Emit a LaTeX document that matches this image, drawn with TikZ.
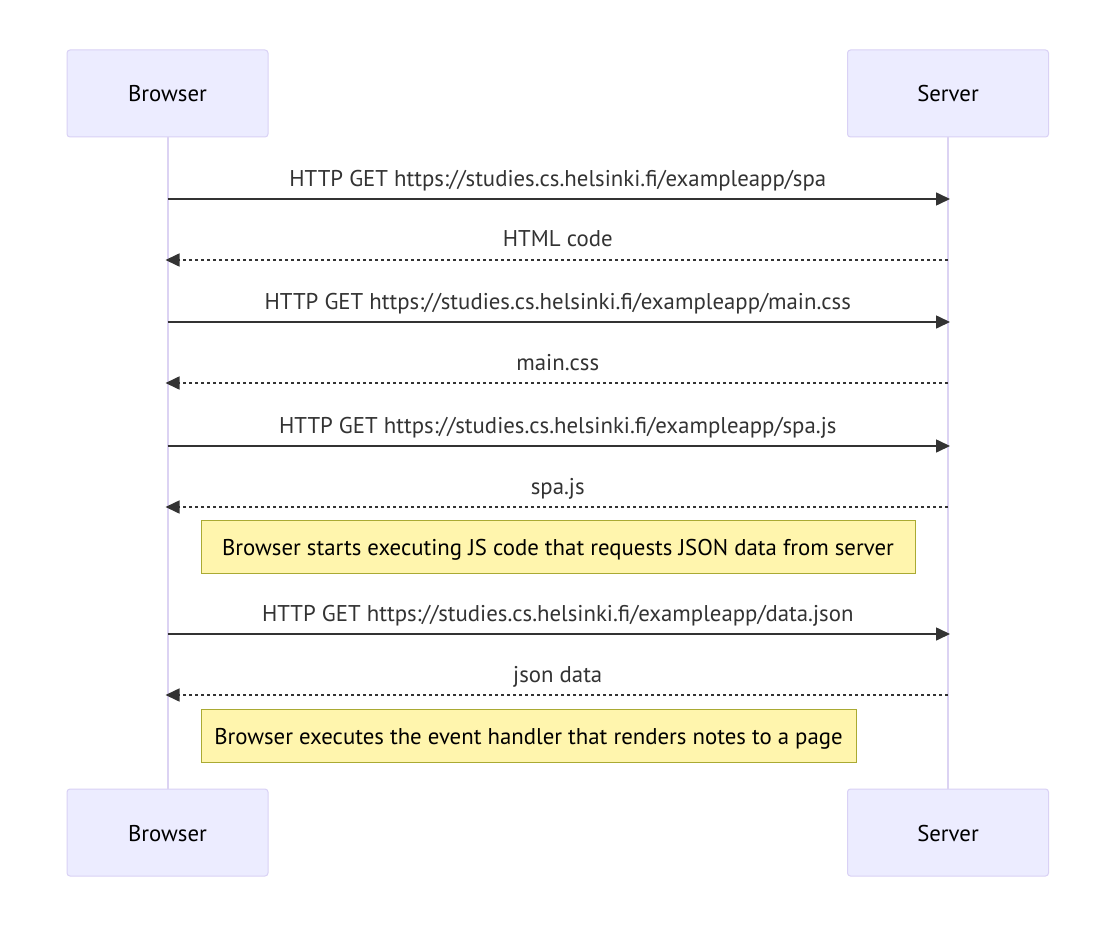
\documentclass[tikz,border=0pt]{standalone}
\usepackage{fontspec}
\setmainfont{PT Sans}
\usetikzlibrary{arrows.meta}
\definecolor{actfill}{HTML}{ECECFF}
\definecolor{actdraw}{HTML}{D9D1F5}
\definecolor{lifeln}{HTML}{DCD3F3}
\definecolor{msgcol}{HTML}{333333}
\definecolor{notefill}{HTML}{FFF5AD}
\definecolor{notedraw}{HTML}{AAAA33}
\newcommand{\myfont}{\fontsize{22.8}{26}\selectfont}
\tikzset{
  actor/.style={draw=actdraw, fill=actfill, line width=1pt, rounded corners=3pt,
    minimum width=201pt, minimum height=87pt, inner sep=0pt},
  atext/.style={font=\myfont, text=black, inner sep=0pt, anchor=base},
  life/.style={draw=lifeln, line width=2pt},
  req/.style={draw=msgcol, line width=1.6pt, shorten >=-2pt, -{Triangle[length=14pt,width=13pt]}},
  resp/.style={draw=msgcol, line width=1.6pt, shorten >=-2pt, dash pattern=on 3pt off 3pt, -{Triangle[length=14pt,width=13pt]}},
  lbl/.style={font=\myfont, text=msgcol, inner sep=0pt, anchor=base, yshift=13pt},
  note/.style={draw=notedraw, fill=notefill, line width=1pt, inner sep=0pt, minimum height=53pt}
}
\begin{document}
\begin{tikzpicture}[x=1pt,y=-1pt]
\useasboundingbox (0,0) rectangle (1116,928);
\fill[white] (0,0) rectangle (1116,928);
% actors
\node[actor] (bt) at (167.5,93.5) {};
\node[actor] (st) at (948,93.5) {};
\node[actor] (bb) at (167.5,832.5) {};
\node[actor] (sb) at (948,832.5) {};
\node[atext] (btt) at (167.5,102) {Browser};
\node[atext] (stt) at (948,102) {Server};
\node[atext] (bbt) at (167.5,841) {Browser};
\node[atext] (sbt) at (948,841) {Server};
% lifelines
\draw[life] (bt.south) -- (bb.north);
\draw[life] (st.south) -- (sb.north);
% message anchors
\foreach \i/\y in {1/199,2/260,3/322,4/383,5/446,6/507,7/634,8/695}{
  \coordinate (b\i) at (167.5,\y);
  \coordinate (s\i) at (948,\y);
}
\draw[req] (b1) -- (s1) node[lbl, midway] {HTTP GET https://studies.cs.helsinki.fi/exampleapp/spa};
\draw[resp] (s2) -- (b2) node[lbl, midway] {HTML code};
\draw[req] (b3) -- (s3) node[lbl, midway] {HTTP GET https://studies.cs.helsinki.fi/exampleapp/main.css};
\draw[resp] (s4) -- (b4) node[lbl, midway] {main.css};
\draw[req] (b5) -- (s5) node[lbl, midway] {HTTP GET https://studies.cs.helsinki.fi/exampleapp/spa.js};
\draw[resp] (s6) -- (b6) node[lbl, midway] {spa.js};
\node[note, minimum width=714pt] (n1) at (558,546.5) {};
\node[atext] (n1t) at (558,555) {Browser starts executing JS code that requests JSON data from server};
\draw[req] (b7) -- (s7) node[lbl, midway] {HTTP GET https://studies.cs.helsinki.fi/exampleapp/data.json};
\draw[resp] (s8) -- (b8) node[lbl, midway] {json data};
\node[note, minimum width=655pt] (n2) at (528.5,736) {};
\node[atext] (n2t) at (528.5,744.5) {Browser executes the event handler that renders notes to a page};
\end{tikzpicture}
\end{document}
